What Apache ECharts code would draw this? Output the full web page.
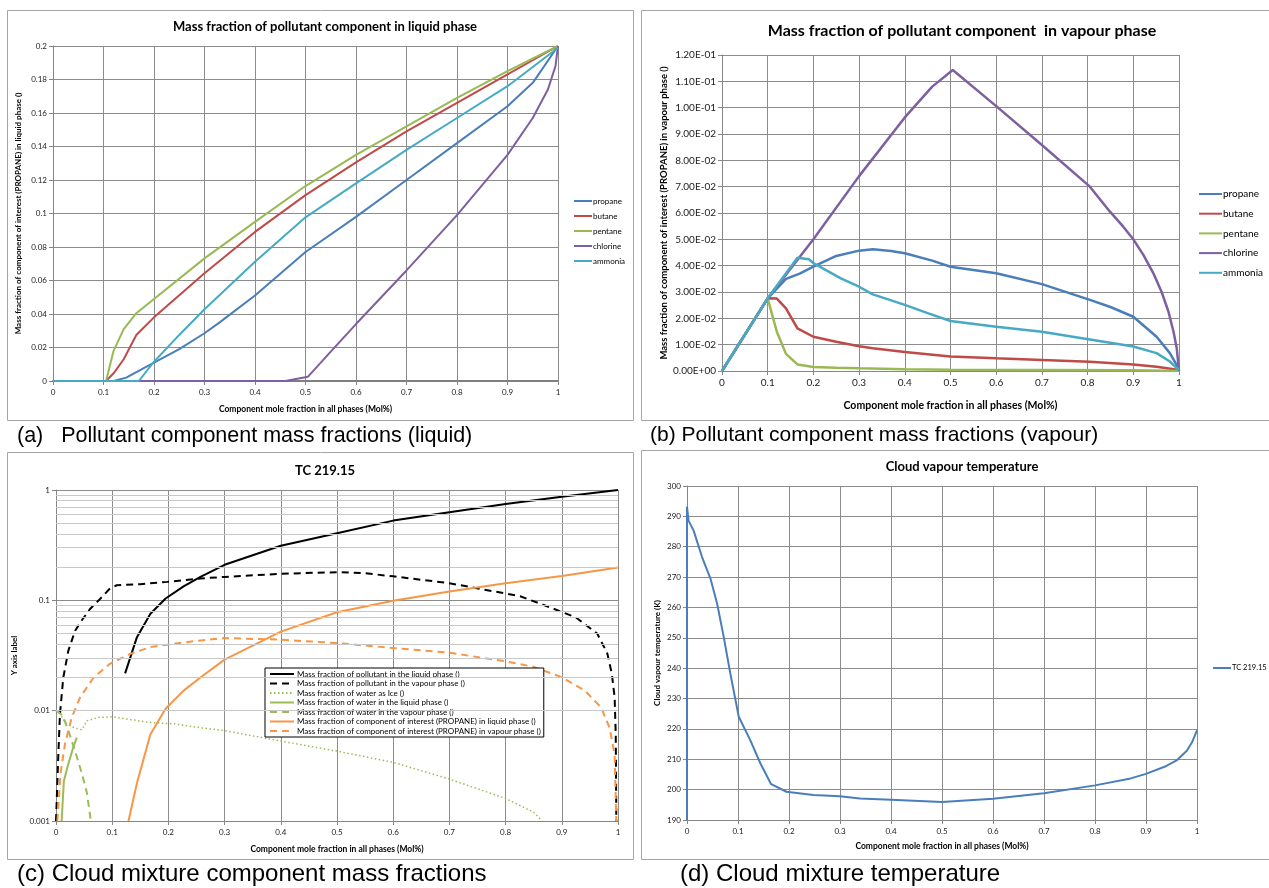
<!DOCTYPE html>
<html>
<head>
<meta charset="utf-8">
<script src="https://cdn.jsdelivr.net/npm/echarts@6/dist/echarts.min.js"></script>
<style>
  html, body { margin: 0; padding: 0; background: #ffffff; }
  #chart { width: 1269px; height: 888px; }
</style>
</head>
<body>
<div id="chart"></div>
<script>
// ---------- (a) mass fraction of pollutant in liquid phase: [mole fraction, mass fraction] ----------
const liqPropane  = [[0,0],[0.12,0],[0.145,0.002],[0.2,0.011],[0.25,0.019],[0.3,0.0285],[0.33,0.035],[0.4,0.051],[0.5,0.077],[0.6,0.098],[0.7,0.12],[0.8,0.142],[0.9,0.164],[0.95,0.178],[1,0.2]];
const liqButane   = [[0,0],[0.105,0],[0.12,0.0046],[0.14,0.013],[0.165,0.0275],[0.2,0.038],[0.3,0.0643],[0.4,0.089],[0.5,0.111],[0.6,0.1305],[0.7,0.149],[0.8,0.166],[0.9,0.183],[1,0.2]];
const liqPentane  = [[0,0],[0.105,0],[0.12,0.018],[0.14,0.031],[0.165,0.0405],[0.2,0.049],[0.3,0.0732],[0.4,0.095],[0.5,0.1164],[0.6,0.135],[0.7,0.152],[0.8,0.169],[0.9,0.185],[1,0.2]];
const liqChlorine = [[0,0],[0.46,0],[0.505,0.0026],[0.55,0.0175],[0.6,0.034],[0.7,0.066],[0.8,0.099],[0.9,0.135],[0.95,0.157],[0.98,0.174],[0.995,0.188],[1,0.2]];
const liqAmmonia  = [[0,0],[0.17,0],[0.2,0.0115],[0.25,0.0275],[0.3,0.0428],[0.35,0.057],[0.4,0.0712],[0.5,0.0977],[0.6,0.118],[0.7,0.138],[0.8,0.157],[0.9,0.176],[1,0.199]];

// ---------- (b) mass fraction of pollutant in vapour phase ----------
const vapPropane  = [[0,0],[0.1,0.0276],[0.14,0.035],[0.17,0.037],[0.2,0.0396],[0.25,0.0437],[0.3,0.0457],[0.33,0.0462],[0.37,0.0456],[0.4,0.0447],[0.46,0.0419],[0.5,0.0396],[0.6,0.0371],[0.7,0.033],[0.805,0.027],[0.85,0.0243],[0.9,0.0206],[0.951,0.013],[0.98,0.0068],[1,0.0007]];
const vapButane   = [[0,0],[0.1,0.0276],[0.12,0.0275],[0.14,0.0238],[0.165,0.0162],[0.2,0.013],[0.25,0.0111],[0.3,0.0094],[0.33,0.0086],[0.4,0.0072],[0.5,0.0055],[0.6,0.0048],[0.7,0.0042],[0.805,0.0035],[0.9,0.0025],[0.951,0.0016],[1,0.0004]];
const vapPentane  = [[0,0],[0.1,0.0276],[0.12,0.0149],[0.14,0.0065],[0.165,0.0025],[0.2,0.0015],[0.25,0.0012],[0.3,0.001],[0.4,0.0007],[0.5,0.0005],[0.7,0.0004],[0.9,0.0003],[1,0]];
const vapChlorine = [[0,0],[0.1,0.0276],[0.2,0.05],[0.3,0.074],[0.4,0.0963],[0.46,0.108],[0.505,0.1143],[0.6,0.1006],[0.7,0.0858],[0.805,0.07],[0.849,0.0605],[0.878,0.0548],[0.9,0.05],[0.922,0.0441],[0.944,0.0371],[0.962,0.03],[0.977,0.0225],[0.988,0.0149],[0.995,0.0087],[1,0]];
const vapAmmonia  = [[0,0],[0.1,0.0276],[0.165,0.043],[0.19,0.0424],[0.2,0.041],[0.26,0.0352],[0.3,0.032],[0.33,0.0291],[0.4,0.0251],[0.45,0.022],[0.5,0.019],[0.6,0.0168],[0.7,0.0149],[0.805,0.012],[0.88,0.0099],[0.9,0.0093],[0.951,0.0068],[0.98,0.0036],[1,0.0003]];

// ---------- (c) cloud mixture component mass fractions (log scale) ----------
const mixPollutantLiq = [[0.123,0.0218],[0.144,0.0464],[0.168,0.0757],[0.195,0.104],[0.227,0.134],[0.257,0.163],[0.3,0.21],[0.4,0.312],[0.5,0.406],[0.6,0.528],[0.7,0.63],[0.8,0.747],[0.9,0.87],[1,1]];
const mixPollutantVap = [[0,0.001],[0.004,0.0038],[0.007,0.0093],[0.013,0.02],[0.022,0.035],[0.034,0.053],[0.046,0.066],[0.061,0.084],[0.076,0.1],[0.096,0.128],[0.108,0.137],[0.15,0.14],[0.198,0.147],[0.257,0.158],[0.3,0.163],[0.4,0.174],[0.5,0.18],[0.55,0.176],[0.6,0.165],[0.7,0.143],[0.826,0.109],[0.885,0.084],[0.925,0.07],[0.963,0.05],[0.981,0.033],[0.989,0.0216],[0.994,0.0132],[0.996,0.0061],[0.997,0.001]];
const mixWaterIce     = [[0,0.01],[0.008,0.0093],[0.016,0.0078],[0.03,0.0071],[0.046,0.0067],[0.055,0.0081],[0.076,0.0087],[0.1,0.0088],[0.126,0.0084],[0.168,0.0078],[0.21,0.0076],[0.257,0.007],[0.3,0.0066],[0.4,0.0053],[0.5,0.0043],[0.6,0.0034],[0.7,0.0024],[0.8,0.0016],[0.85,0.0012],[0.865,0.001]];
const mixWaterLiq     = [[0.01,0.001],[0.014,0.0023],[0.022,0.0033],[0.031,0.0047],[0.037,0.0057]];
const mixWaterVap     = [[0.001,0.01],[0.012,0.009],[0.022,0.0066],[0.034,0.0043],[0.046,0.0027],[0.055,0.0018],[0.062,0.001]];
const mixPropaneLiq   = [[0.129,0.001],[0.144,0.0022],[0.168,0.0061],[0.195,0.0104],[0.227,0.0152],[0.257,0.02],[0.3,0.029],[0.4,0.052],[0.5,0.078],[0.6,0.099],[0.7,0.12],[0.8,0.143],[0.9,0.166],[1,0.198]];
const mixPropaneVap   = [[0.0024,0.001],[0.008,0.0027],[0.016,0.005],[0.028,0.0087],[0.043,0.0132],[0.067,0.02],[0.096,0.0266],[0.132,0.0327],[0.168,0.0377],[0.21,0.0404],[0.257,0.0433],[0.3,0.0455],[0.4,0.044],[0.5,0.041],[0.6,0.037],[0.7,0.0335],[0.8,0.028],[0.849,0.025],[0.9,0.0201],[0.941,0.0152],[0.97,0.0107],[0.985,0.007],[0.994,0.004],[0.997,0.001]];
const logMinorSteps = [2,3,4,5,6,7,8,9];
const logDecades = [0.001,0.01,0.1];

// ---------- (d) cloud vapour temperature [mole fraction, K] ----------
const cloudTemp = [[0,190],[0,293.2],[0.003,288.6],[0.013,285.3],[0.0295,276.6],[0.046,269.5],[0.059,261.3],[0.072,250.3],[0.085,238.2],[0.1015,224],[0.124,216.3],[0.144,208.6],[0.165,201.8],[0.195,199.3],[0.248,198.2],[0.3,197.8],[0.339,197.1],[0.4,196.7],[0.5,195.9],[0.6,197],[0.7,198.8],[0.8,201.4],[0.87,203.7],[0.9,205.2],[0.94,207.8],[0.96,209.6],[0.98,212.8],[0.99,215.5],[1,219.5]];

const componentNames = ['propane','butane','pentane','chlorine','ammonia'];
const mixNames = [
  'Mass fraction of pollutant in the liquid phase ()',
  'Mass fraction of pollutant in the vapour phase ()',
  'Mass fraction of water as Ice ()',
  'Mass fraction of water in the liquid phase ()',
  'Mass fraction of water in the vapour phase ()',
  'Mass fraction of component of interest (PROPANE) in liquid phase ()',
  'Mass fraction of component of interest (PROPANE) in vapour phase ()'
];
const xAxisTitle = 'Component mole fraction in all phases (Mol%)';

const FONT = "Lato, 'Liberation Sans', sans-serif";
const GRID_COLOR = '#8c8c8c';
const AXIS_COLOR = '#868686';
const C = { blue:'#4a7ebb', red:'#be4b48', green:'#98b954', purple:'#7d60a0', cyan:'#46aac5',
            orange:'#f79646', black:'#000000', water:'#9bbb59' };

function fmtDec(v) { return String(+(+v).toFixed(3)); }
function fmtSci(v) {
  if (Math.abs(v) < 1e-12) return '0.00E+00';
  const e = Math.floor(Math.log10(Math.abs(v)) + 1e-9);
  const m = v / Math.pow(10, e);
  return m.toFixed(2) + 'E' + (e < 0 ? '-' : '+') + String(Math.abs(e)).padStart(2, '0');
}

function xAxis(gi, fs, nameFs, gap) {
  return {
    type: 'value', gridIndex: gi, min: 0, max: 1, interval: 0.1,
    name: xAxisTitle, nameLocation: 'middle', nameGap: gap,
    nameTextStyle: { fontFamily: FONT, fontSize: nameFs, fontWeight: 'bold', color: '#000' },
    axisLine: { show: true, onZero: false, lineStyle: { color: AXIS_COLOR, width: 1 } },
    axisTick: { show: true, length: 4, lineStyle: { color: AXIS_COLOR } },
    axisLabel: { fontFamily: FONT, fontSize: fs, color: '#222', margin: 7, formatter: fmtDec },
    splitLine: { show: true, lineStyle: { color: GRID_COLOR, width: 1 } }
  };
}
function yAxisBase(gi, fs, name, nameFs, gap) {
  return {
    gridIndex: gi, name: name, nameLocation: 'middle', nameRotate: 90, nameGap: gap,
    nameTextStyle: { fontFamily: FONT, fontSize: nameFs, fontWeight: 'bold', color: '#000' },
    axisLine: { show: true, lineStyle: { color: AXIS_COLOR, width: 1 } },
    axisTick: { show: true, length: 4, lineStyle: { color: AXIS_COLOR } },
    axisLabel: { fontFamily: FONT, fontSize: fs, color: '#222', margin: 6 },
    splitLine: { show: true, lineStyle: { color: GRID_COLOR, width: 1 } }
  };
}
function lineSeries(name, data, color, idx, extra) {
  return Object.assign({
    type: 'line', name: name, data: data, xAxisIndex: idx, yAxisIndex: idx,
    symbol: 'none', showSymbol: false, smooth: false, animation: false, clip: true,
    lineStyle: { color: color, width: 2 }, itemStyle: { color: color }
  }, extra || {});
}

// minor gridlines of the logarithmic panel (2..9 within each decade)
const minorLines = [];
logDecades.forEach(d => logMinorSteps.forEach(s => minorLines.push({ yAxis: +(d * s).toPrecision(3) })));

const yA = Object.assign(yAxisBase(0, 8, 'Mass fraction of component of interest (PROPANE) in liquid phase ()', 8, 31),
  { type: 'value', min: 0, max: 0.2, interval: 0.02 });
yA.axisLabel.formatter = fmtDec;
const yB = Object.assign(yAxisBase(1, 10, 'Mass fraction of component of interest (PROPANE) in vapour phase ()', 9.5, 52),
  { type: 'value', min: 0, max: 0.12, interval: 0.01 });
yB.axisLabel.formatter = fmtSci;
const yC = Object.assign(yAxisBase(2, 8, 'Y axis label', 8, 38),
  { type: 'log', logBase: 10, min: 0.001, max: 1 });
yC.axisLabel.formatter = v => String(+(+v).toPrecision(3));
const yD = Object.assign(yAxisBase(3, 8, 'Cloud vapour temperature (K)', 8, 26),
  { type: 'value', min: 190, max: 300, interval: 10 });

const xA = xAxis(0, 8, 8.5, 24);
xA.axisLine.lineStyle = { color: '#7f7f7f', width: 2 };
const xB = xAxis(1, 10, 10.5, 29);
const xC = xAxis(2, 8, 8.5, 24);
const xD = xAxis(3, 8, 8.5, 22);

const caption = (x, y, t, fs) => ({ type: 'text', left: x, top: y, silent: true,
  style: { text: t, fontFamily: "'Liberation Sans', Arial, sans-serif", fontSize: fs, fill: '#000' } });
const frame = (x, y, w, h) => ({ type: 'rect', shape: { x: x, y: y, width: w, height: h }, silent: true, z: -1,
  style: { fill: 'none', stroke: '#a6a6a6', lineWidth: 1 } });

// legend icons show the series line only (no marker)
const legendBase = { orient: 'vertical', padding: 0, selectedMode: false, itemStyle: { opacity: 0 } };

const option = {
  backgroundColor: '#ffffff',
  animation: false,
  title: [
    { text: 'Mass fraction of pollutant component in liquid phase', left: 320, top: 15, textAlign: 'center',
      textStyle: { fontFamily: FONT, fontSize: 13, fontWeight: 'bold', color: '#000' } },
    { text: 'Mass fraction of pollutant component  in vapour phase', left: 957, top: 18, textAlign: 'center',
      textStyle: { fontFamily: FONT, fontSize: 16, fontWeight: 'bold', color: '#000' } },
    { text: 'TC 219.15', left: 320, top: 459, textAlign: 'center',
      textStyle: { fontFamily: FONT, fontSize: 13, fontWeight: 'bold', color: '#000' } },
    { text: 'Cloud vapour temperature', left: 957, top: 455, textAlign: 'center',
      textStyle: { fontFamily: FONT, fontSize: 13, fontWeight: 'bold', color: '#000' } }
  ],
  grid: [
    { left: 53, top: 46, width: 505, height: 335 },
    { left: 722, top: 55, width: 457, height: 316 },
    { left: 56, top: 490, width: 562, height: 331 },
    { left: 687, top: 486, width: 510, height: 334 }
  ],
  legend: [
    Object.assign({}, legendBase, { data: componentNames, left: 573, top: 197, itemWidth: 18, itemHeight: 8, itemGap: 7,
      textStyle: { fontFamily: FONT, fontSize: 8, color: '#000', padding: [0, 0, 0, -4] } }),
    Object.assign({}, legendBase, { data: componentNames, left: 1198, top: 189, itemWidth: 23, itemHeight: 10, itemGap: 9.7,
      textStyle: { fontFamily: FONT, fontSize: 10, color: '#000', padding: [0, 0, 0, -4] } }),
    Object.assign({}, legendBase, { data: mixNames, left: 265, top: 668, itemWidth: 24, itemHeight: 8, itemGap: 1.5,
      padding: [2, 3, 2, 4], borderColor: '#000', borderWidth: 1, backgroundColor: '#ffffff',
      textStyle: { fontFamily: FONT, fontSize: 8, color: '#000', padding: [0, 0, 0, -2] } }),
    Object.assign({}, legendBase, { data: ['TC 219.15'], left: 1212, top: 664, itemWidth: 18, itemHeight: 8,
      textStyle: { fontFamily: FONT, fontSize: 7.5, color: '#000', padding: [0, 0, 0, -4] } })
  ],
  xAxis: [xA, xB, xC, xD],
  yAxis: [yA, yB, yC, yD],
  graphic: [
    frame(7.5, 10.5, 626, 410),
    frame(641.5, 10.5, 640, 410),
    frame(7.5, 452.5, 626, 407),
    frame(641.5, 450.5, 640, 409),
    caption(17, 425, '(a)   Pollutant component mass fractions (liquid)', 21.5),
    caption(650, 425, '(b) Pollutant component mass fractions (vapour)', 21),
    caption(17, 862, '(c) Cloud mixture component mass fractions', 24),
    caption(680, 862, '(d) Cloud mixture temperature', 24)
  ],
  series: [
    lineSeries('propane',  liqPropane,  C.blue,   0),
    lineSeries('butane',   liqButane,   C.red,    0),
    lineSeries('pentane',  liqPentane,  C.green,  0),
    lineSeries('chlorine', liqChlorine, C.purple, 0),
    lineSeries('ammonia',  liqAmmonia,  C.cyan,   0),

    lineSeries('propane',  vapPropane,  C.blue,   1, { lineStyle: { color: C.blue, width: 2.5 } }),
    lineSeries('butane',   vapButane,   C.red,    1, { lineStyle: { color: C.red, width: 2.5 } }),
    lineSeries('pentane',  vapPentane,  C.green,  1, { lineStyle: { color: C.green, width: 2.5 } }),
    lineSeries('chlorine', vapChlorine, C.purple, 1, { lineStyle: { color: C.purple, width: 2.5 } }),
    lineSeries('ammonia',  vapAmmonia,  C.cyan,   1, { lineStyle: { color: C.cyan, width: 2.5 } }),

    // minor log gridlines drawn underneath the curves
    { type: 'line', name: 'minor-grid', xAxisIndex: 2, yAxisIndex: 2, data: [], z: 0, silent: true,
      markLine: { silent: true, symbol: 'none', animation: false, label: { show: false },
                  lineStyle: { color: '#c8c8c8', type: 'solid', width: 1 }, data: minorLines } },
    lineSeries(mixNames[0], mixPollutantLiq, C.black, 2),
    lineSeries(mixNames[1], mixPollutantVap, C.black, 2, { lineStyle: { color: C.black, width: 2, type: [7, 5] } }),
    lineSeries(mixNames[2], mixWaterIce, C.water, 2, { lineStyle: { color: C.water, width: 1.5, type: [1.5, 2.5] } }),
    lineSeries(mixNames[3], mixWaterLiq, C.water, 2),
    lineSeries(mixNames[4], mixWaterVap, C.water, 2, { lineStyle: { color: C.water, width: 2, type: [7, 5] } }),
    lineSeries(mixNames[5], mixPropaneLiq, C.orange, 2),
    lineSeries(mixNames[6], mixPropaneVap, C.orange, 2, { lineStyle: { color: C.orange, width: 2, type: [7, 5] } }),

    lineSeries('TC 219.15', cloudTemp, C.blue, 3)
  ]
};

const chart = echarts.init(document.getElementById('chart'));
chart.setOption(option);
</script>
</body>
</html>
